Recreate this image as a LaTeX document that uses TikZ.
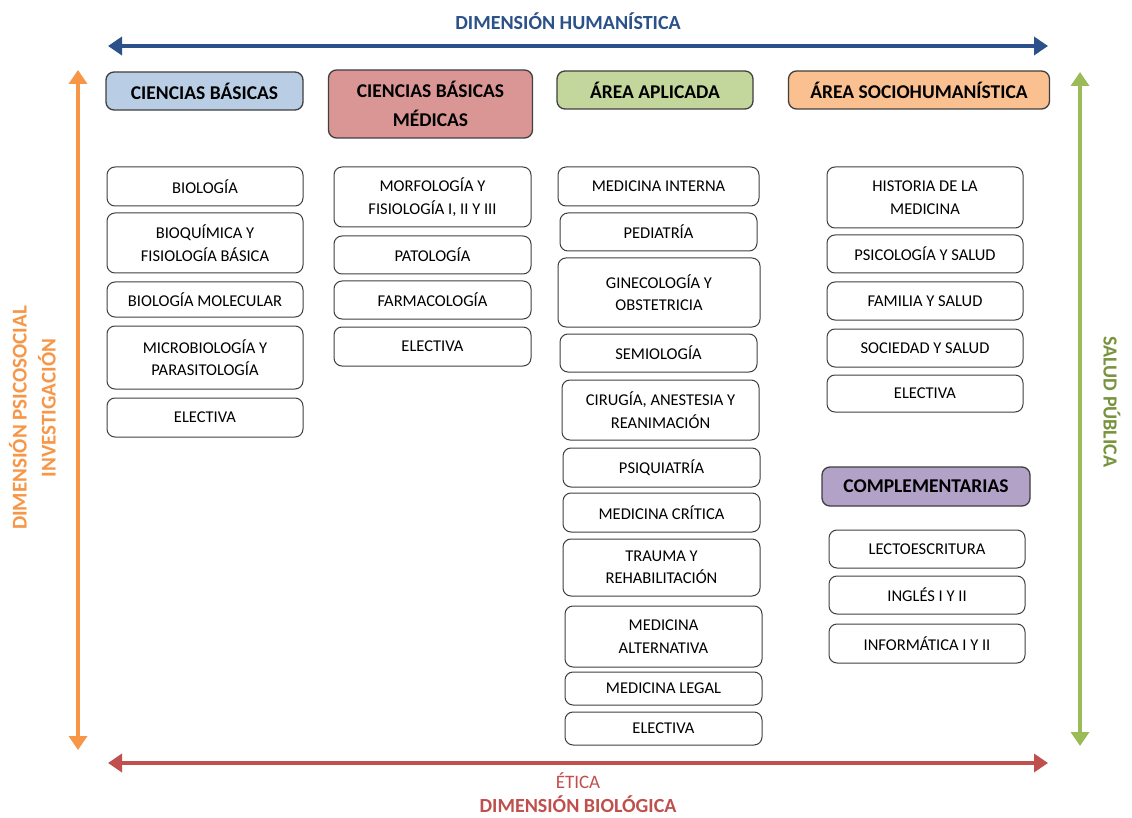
\documentclass[tikz,border=0pt]{standalone}
\usepackage{fontspec}
\setmainfont{Carlito}
\usetikzlibrary{arrows.meta}
\definecolor{hblue}{HTML}{B9CDE5}
\definecolor{hred}{HTML}{D99694}
\definecolor{hgreen}{HTML}{C3D69B}
\definecolor{horange}{HTML}{FAC090}
\definecolor{hpurple}{HTML}{B3A2C7}
\definecolor{edge}{HTML}{3F3F3F}
\definecolor{topc}{HTML}{2A5189}
\definecolor{leftc}{HTML}{F79646}
\definecolor{rightc}{HTML}{9BBB59}
\definecolor{rightt}{HTML}{77933C}
\definecolor{botc}{HTML}{C0504D}
\tikzset{
  box/.style={draw=edge, line width=1pt, rounded corners=8pt, fill=white,
    inner sep=0pt, align=center, font=\fontsize{16.5}{22.5}\selectfont},
  hdr/.style={draw=edge, line width=1.3pt, rounded corners=8pt,
    inner sep=0pt, align=center, font=\fontsize{19.5}{29}\selectfont\bfseries},
  dimarrow/.style={line width=4pt,
    {Triangle[length=14pt,width=18pt]}-{Triangle[length=14pt,width=18pt]}},
  dimlabel/.style={inner sep=0pt, font=\fontsize{20}{24}\selectfont\bfseries}
}
\newcommand\bx[6]{\node[box,minimum width=#4pt,minimum height=#5pt] (#1) at (#2,#3) {#6};}
\newcommand\hd[7]{\node[hdr,fill=#7,minimum width=#4pt,minimum height=#5pt] (#1) at (#2,#3) {#6};}
\begin{document}
\begin{tikzpicture}[x=1pt,y=-1pt]
\useasboundingbox[fill=white] (0,0) rectangle (1132,818);

% dimension arrows
\coordinate (tl) at (108,46);
\coordinate (tr) at (1048,46);
\coordinate (bl) at (108,763);
\coordinate (br) at (1048,763);
\coordinate (lt) at (78,70);
\coordinate (lb) at (78,750);
\coordinate (rt) at (1080,72);
\coordinate (rb) at (1080,746);
\draw[dimarrow, topc] (tl) -- (tr);
\draw[dimarrow, botc] (bl) -- (br);
\draw[dimarrow, leftc] (lt) -- (lb);
\draw[dimarrow, rightc] (rt) -- (rb);

\node[dimlabel, text=topc] (hum) at (568,21) {DIMENSIÓN HUMANÍSTICA};
\node[dimlabel, text=botc, font=\fontsize{19}{22}\selectfont] (eti) at (578,781) {ÉTICA};
\node[dimlabel, text=botc] (bio) at (578,804) {DIMENSIÓN BIOLÓGICA};
\node[dimlabel, text=leftc, rotate=90, font=\fontsize{21}{24}\selectfont\bfseries] (psi) at (18,418) {DIMENSIÓN PSICOSOCIAL};
\node[dimlabel, text=leftc, rotate=90, font=\fontsize{21}{24}\selectfont\bfseries] (inv) at (47,408) {INVESTIGACIÓN};
\node[dimlabel, text=rightt, rotate=-90] (sp) at (1112,402) {SALUD PÚBLICA};

% headers
\hd{h1}{204.5}{91}{197}{38}{CIENCIAS BÁSICAS}{hblue}
\hd{h2}{430.5}{104}{204}{68}{CIENCIAS BÁSICAS\\MÉDICAS}{hred}
\hd{h3}{655}{90}{196}{38}{ÁREA APLICADA}{hgreen}
\hd{h4}{919}{90}{261}{38}{ÁREA SOCIOHUMANÍSTICA}{horange}
\hd{h5}{926}{486.5}{208}{39}{COMPLEMENTARIAS}{hpurple}

% ciencias basicas
\bx{b1}{205}{186.5}{196}{39}{BIOLOGÍA}
\bx{b2}{205}{243}{196}{60}{BIOQUÍMICA Y\\FISIOLOGÍA BÁSICA}
\bx{b3}{205}{299.5}{196}{35}{BIOLOGÍA MOLECULAR}
\bx{b4}{205}{357.5}{196}{63}{MICROBIOLOGÍA Y\\PARASITOLOGÍA}
\bx{b5}{205}{417.5}{196}{39}{ELECTIVA}

% ciencias basicas medicas
\bx{m1}{432.5}{197}{197}{60}{MORFOLOGÍA Y\\FISIOLOGÍA I, II Y III}
\bx{m2}{432.5}{255}{197}{38}{PATOLOGÍA}
\bx{m3}{432.5}{300}{197}{38}{FARMACOLOGÍA}
\bx{m4}{432.5}{346.5}{197}{39}{ELECTIVA}

% area aplicada
\bx{a1}{658.5}{186.5}{201}{39}{MEDICINA INTERNA}
\bx{a2}{658.5}{232}{197}{38}{PEDIATRÍA}
\bx{a3}{659}{292.5}{202}{69}{GINECOLOGÍA Y\\OBSTETRICIA}
\bx{a4}{658.5}{353}{197}{38}{SEMIOLOGÍA}
\bx{a5}{660.5}{410}{197}{60}{CIRUGÍA, ANESTESIA Y\\REANIMACIÓN}
\bx{a6}{661.5}{467.5}{197}{39}{PSIQUIATRÍA}
\bx{a7}{661.5}{512.5}{197}{39}{MEDICINA CRÍTICA}
\bx{a8}{661.5}{567.5}{197}{57}{TRAUMA Y\\REHABILITACIÓN}
\bx{a9}{663.5}{636.5}{197}{61}{MEDICINA\\ALTERNATIVA}
\bx{a10}{663.5}{688.5}{197}{33}{MEDICINA LEGAL}
\bx{a11}{663.5}{728.5}{197}{33}{ELECTIVA}

% area sociohumanistica
\bx{s1}{925}{197.5}{196}{61}{HISTORIA DE LA\\MEDICINA}
\bx{s2}{925}{254}{196}{38}{PSICOLOGÍA Y SALUD}
\bx{s3}{925}{301}{196}{38}{FAMILIA Y SALUD}
\bx{s4}{925}{348}{196}{38}{SOCIEDAD Y SALUD}
\bx{s5}{925}{393.5}{196}{37}{ELECTIVA}

% complementarias
\bx{c1}{927}{549}{196}{38}{LECTOESCRITURA}
\bx{c2}{927}{595}{196}{38}{INGLÉS I Y II}
\bx{c3}{927}{643.5}{196}{39}{INFORMÁTICA I Y II}
\end{tikzpicture}
\end{document}
